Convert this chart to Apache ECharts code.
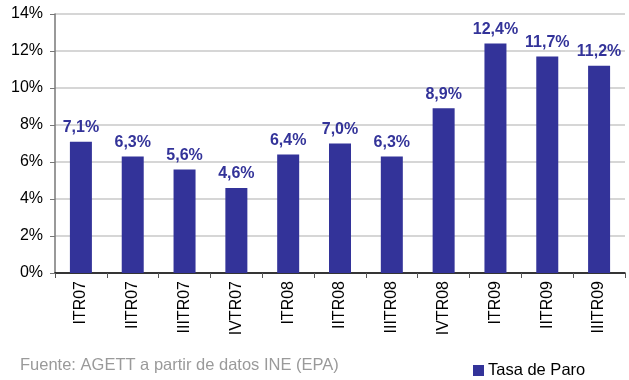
<!DOCTYPE html>
<html>
<head>
<meta charset="utf-8">
<script src="https://cdn.jsdelivr.net/npm/echarts@6/dist/echarts.min.js"></script>
<style>
  html, body { margin: 0; padding: 0; background: #fff; }
  #chart { width: 629px; height: 380px; }
</style>
</head>
<body>
<div id="chart"></div>
<script>
// Quarterly unemployment rate (EPA)
const quarters = ['ITR07', 'IITR07', 'IIITR07', 'IVTR07', 'ITR08', 'IITR08', 'IIITR08', 'IVTR08', 'ITR09', 'IITR09', 'IIITR09'];
const tasaDeParo = [7.1, 6.3, 5.6, 4.6, 6.4, 7.0, 6.3, 8.9, 12.4, 11.7, 11.2];
const seriesName = 'Tasa de Paro';
const sourceNote = 'Fuente: AGETT a partir de datos INE (EPA)';

const fmtPct = v => v.toFixed(1).replace('.', ',') + '%';
const FONT = 'Liberation Sans, Arial, sans-serif';

const chart = echarts.init(document.getElementById('chart'), null, { renderer: 'canvas' });
chart.setOption({
  animation: false,
  textStyle: { fontFamily: FONT },
  grid: { left: 55, right: 4, top: 14, bottom: 107, containLabel: false },
  title: {
    text: sourceNote,
    left: 15, top: 352,
    textStyle: { fontSize: 16.5, fontWeight: 'normal', color: '#9a9a9a', fontFamily: FONT }
  },
  legend: {
    data: [seriesName],
    left: 468, top: 357,
    icon: 'rect', itemWidth: 11, itemHeight: 11, itemGap: 4,
    textStyle: { fontSize: 16.5, color: '#000', fontFamily: FONT, padding: [0, 0, 0, -1] }
  },
  xAxis: {
    type: 'category',
    data: quarters,
    axisLine: { lineStyle: { color: '#000', width: 1.5 } },
    axisTick: { show: true, length: 5, alignWithLabel: false, lineStyle: { color: '#555' } },
    axisLabel: { rotate: 90, fontSize: 16, color: '#000', margin: 8, interval: 0 }
  },
  yAxis: {
    type: 'value',
    min: 0, max: 14, interval: 2,
    axisLine: { show: true, lineStyle: { color: '#777', width: 1.5 } },
    axisTick: { show: true, length: 5, lineStyle: { color: '#777' } },
    axisLabel: { fontSize: 16, color: '#000', margin: 12, formatter: v => v + '%' },
    splitLine: { lineStyle: { color: '#c8c8c8', width: 1.5 } }
  },
  series: [{
    name: seriesName,
    type: 'bar',
    data: tasaDeParo,
    barWidth: 22,
    itemStyle: { color: '#333399' },
    label: {
      show: true, position: 'top', distance: 6,
      fontSize: 16, fontWeight: 'bold', color: '#333399',
      formatter: p => fmtPct(p.value)
    }
  }]
});
</script>
</body>
</html>
